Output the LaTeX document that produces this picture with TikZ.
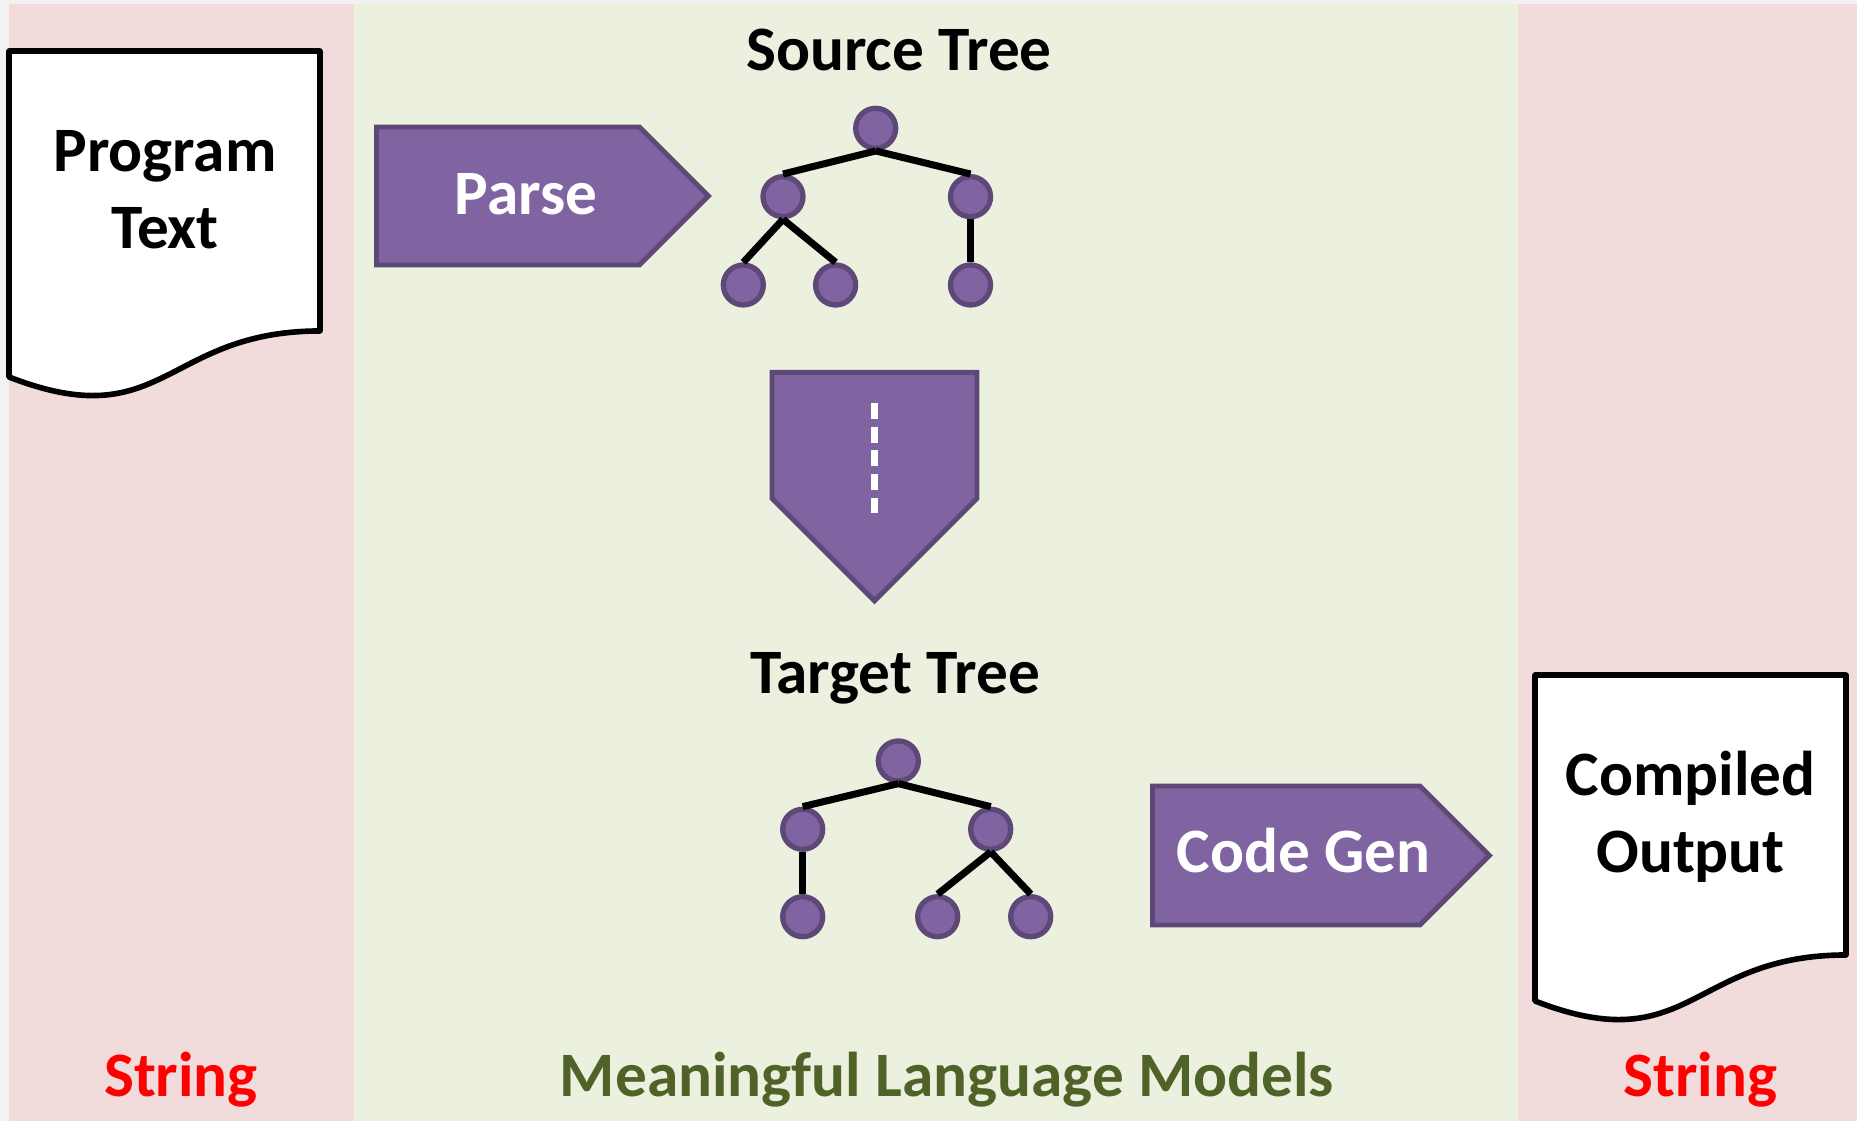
\documentclass[tikz,border=0pt]{standalone}
\usepackage{fontspec}
\setmainfont{Carlito}
\usepackage{tikz}
\usetikzlibrary{shapes.symbols}
\definecolor{panelpink}{RGB}{242,220,219}
\definecolor{panelgreen}{RGB}{235,241,222}
\definecolor{framegrey}{RGB}{242,242,242}
\definecolor{stagepurple}{RGB}{128,100,162}
\definecolor{stageedge}{RGB}{93,72,120}
\definecolor{olivetext}{RGB}{79,98,40}
\tikzset{
  ctree/.style   ={circle, draw=stageedge, fill=stagepurple, line width=1.5pt,
                   minimum size=4mm, inner sep=0pt},
  cbranch/.style ={line width=2pt, black},
  cstep/.style   ={signal, signal pointer angle=90, draw=stageedge, fill=stagepurple,
                   line width=1.4pt, inner sep=0pt},
  csteptext/.style={anchor=base, text=white, font=\fontsize{18}{22}\selectfont\bfseries},
  cdoc/.style    ={draw=black, fill=white, line width=1.6pt, line join=round},
  cdoctext/.style={align=center, font=\fontsize{18}{21.8}\selectfont\bfseries},
  ctitle/.style  ={anchor=base, font=\fontsize{18}{22}\selectfont\bfseries},
}

\begin{document}
\begin{tikzpicture}[scale=1.0,
   stepright/.style={cstep, signal to=east, anchor=west},
   stepdown/.style={cstep, signal to=south, anchor=north},
   gapdash/.style={white, line width=2pt, dash pattern=on 0.16cm off 0.077cm}]
  \useasboundingbox (0,0) rectangle (18.57,11.21);
  \fill[framegrey]  (0,0) rectangle (18.57,11.21);
  \fill[panelpink]  (0.09,0) rectangle (3.54,11.17);
  \fill[panelgreen] (3.54,0) rectangle (15.18,11.17);
  \fill[panelpink]  (15.18,0) rectangle (18.57,11.17);

  \draw[cdoc] (0.09,10.70) -- (3.20,10.70) -- (3.20,7.90)
     .. controls (1.645,7.90) and (1.645,6.835) .. (0.09,7.44) -- cycle;
  \node[cdoctext] (prog) at (1.65,9.315) {Program\\Text};
  \draw[cdoc] (15.35,4.46) -- (18.46,4.46) -- (18.46,1.66)
     .. controls (16.905,1.66) and (16.905,0.595) .. (15.35,1.20) -- cycle;
  \node[cdoctext] (out) at (16.905,3.04) {Compiled\\Output};

  \node[stepright, minimum width=3.32cm, minimum height=1.38cm] (parse) at (3.74,9.25) {};
  \node[csteptext] (parsetext) at (5.26,9.06) {Parse};
  \node[stepdown, minimum width=2.05cm, minimum height=1.26cm] (lower) at (8.745,7.51) {};
  \draw[gapdash] ([yshift=-0.33cm]lower.north) -- ([yshift=-1.43cm]lower.north);
  \node[stepright, minimum width=3.37cm, minimum height=1.39cm] (gen) at (11.50,2.655) {};
  \node[csteptext] (gentext) at (13.035,2.483) {Code Gen};

  \node[ctitle] (srctitle) at (8.99,10.50) {Source Tree};
  \node[ctree] (s)   at (8.757,9.927) {};
  \node[ctree] (sl)  at (7.830,9.243) {};
  \node[ctree] (sr)  at (9.705,9.243) {};
  \node[ctree] (sll) at (7.433,8.360) {};
  \node[ctree] (slr) at (8.356,8.360) {};
  \node[ctree] (srr) at (9.705,8.360) {};
  \draw[cbranch] (s.south) -- (sl.north);
  \draw[cbranch] (s.south) -- (sr.north);
  \draw[cbranch] (sl.south) -- (sll.north);
  \draw[cbranch] (sl.south) -- (slr.north);
  \draw[cbranch] (sr.south) -- (srr.north);

  \node[ctitle] (tgttitle) at (8.95,4.27) {Target Tree};
  \node[ctree] (t)   at (8.983,3.600) {};
  \node[ctree] (tl)  at (8.027,2.917) {};
  \node[ctree] (tr)  at (9.907,2.917) {};
  \node[ctree] (tll) at (8.027,2.043) {};
  \node[ctree] (trl) at (9.377,2.043) {};
  \node[ctree] (trr) at (10.307,2.043) {};
  \draw[cbranch] (t.south) -- (tl.north);
  \draw[cbranch] (t.south) -- (tr.north);
  \draw[cbranch] (tl.south) -- (tll.north);
  \draw[cbranch] (tr.south) -- (trl.north);
  \draw[cbranch] (tr.south) -- (trr.north);

  \node[ctitle, text=red]       (lstr)   at (1.81,0.243)  {String};
  \node[ctitle, text=olivetext] (models) at (9.47,0.243)  {Meaningful Language Models};
  \node[ctitle, text=red]       (rstr)   at (17.00,0.243) {String};
\end{tikzpicture}
\end{document}
